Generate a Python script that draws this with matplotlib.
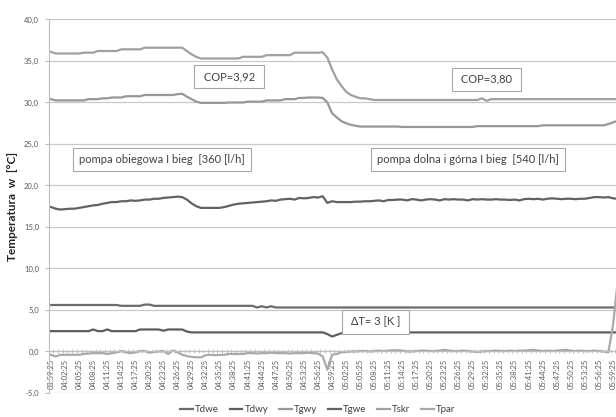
import matplotlib
matplotlib.use("Agg")
import matplotlib.pyplot as plt
import pandas as pd
from matplotlib.ticker import FuncFormatter, MultipleLocator

plt.rcParams['font.family'] = ['Lato', 'DejaVu Sans']

# pomiary co minute od 03:59:25
czas = pd.date_range("2000-01-01 03:59:25", periods=122, freq="min").strftime("%H:%M:%S")

t_dwe = [5.6]*15 + [5.5]*5 + [5.65]*2 + [5.5]*22 + [5.3, 5.45, 5.3, 5.45, 5.3] + [5.3]*73

t_dwy = ([2.45]*9 + [2.65] + [2.45]*2 + [2.65] + [2.45]*6 + [2.65]*5 + [2.5] + [2.65]*4
         + [2.4] + [2.3]*29 + [2.1, 1.8, 2.0, 2.2] + [2.3]*59)

t_gwy = ([30.4] + [30.25]*7 + [30.4]*3 + [30.5]*2 + [30.6]*3 + [30.75]*4 + [30.9]*7
         + [31.0, 31.05, 30.7, 30.4, 30.1] + [29.95]*6 + [30.0]*4 + [30.1]*4 + [30.25]*4
         + [30.4]*3 + [30.55, 30.55, 30.6, 30.6, 30.6, 30.55]
         + [30.0, 28.7, 28.2, 27.75, 27.5, 27.3, 27.2] + [27.1]*9 + [27.05]*16
         + [27.15]*14 + [27.25]*14 + [27.4, 27.6, 27.8])

t_gwe = [17.4, 17.2, 17.1, 17.15, 17.2, 17.2, 17.3, 17.4, 17.5, 17.6,
         17.65, 17.8, 17.9, 18.0, 18.0, 18.1, 18.1, 18.2, 18.15, 18.2,
         18.3, 18.3, 18.4, 18.4, 18.5, 18.55, 18.6, 18.65, 18.6, 18.3,
         17.85, 17.5, 17.3, 17.3, 17.3, 17.3, 17.3, 17.4, 17.55, 17.7,
         17.8, 17.85, 17.9, 17.95, 18.0, 18.05, 18.1, 18.2, 18.15, 18.3,
         18.35, 18.4, 18.3, 18.5, 18.45, 18.5, 18.6, 18.55, 18.7, 17.9,
         18.1, 18.0, 18.0, 18.0, 18.0, 18.05, 18.05, 18.1, 18.1, 18.15,
         18.2, 18.1, 18.25, 18.25, 18.3, 18.3, 18.2, 18.35, 18.3, 18.2,
         18.3, 18.35, 18.3, 18.2, 18.35, 18.3, 18.35, 18.3, 18.3, 18.2,
         18.35, 18.3, 18.35, 18.3, 18.3, 18.35, 18.3, 18.3, 18.25, 18.3,
         18.2, 18.35, 18.4, 18.35, 18.4, 18.3, 18.4, 18.45, 18.4, 18.35,
         18.4, 18.4, 18.35, 18.4, 18.4, 18.5, 18.6, 18.6, 18.55, 18.6,
         18.45, 18.4]

t_skr = ([36.1] + [35.9]*6 + [36.0]*3 + [36.2]*5 + [36.4]*5 + [36.6]*9
         + [36.2, 35.8, 35.5] + [35.3]*9 + [35.5]*5 + [35.7]*6 + [36.0]*6 + [36.05]
         + [35.4, 34.0, 32.8, 32.0, 31.3, 30.9, 30.7, 30.5, 30.5, 30.4]
         + [30.3]*23 + [30.5, 30.2, 30.4] + [30.4]*27)

t_par = [-0.4, -0.6, -0.4, -0.4, -0.4, -0.4, -0.4, -0.3, -0.25, -0.2,
         -0.2, -0.2, -0.3, -0.2, -0.1, 0.05, -0.1, -0.2, -0.1, 0.05,
         0.05, -0.15, -0.05, 0.0, 0.05, -0.3, 0.1, -0.1, -0.4, -0.55,
         -0.65, -0.7, -0.7, -0.45, -0.4, -0.45, -0.4, -0.4, -0.3, -0.3,
         -0.3, -0.3, -0.2, -0.2, -0.25, -0.2, -0.2, -0.15, -0.2, -0.2,
         -0.2, -0.25, -0.2, -0.2, -0.2, -0.15, -0.2, -0.25, -0.6, -2.2,
         -0.4, -0.3, -0.1, -0.05, 0.0, 0.0, 0.05, 0.05, 0.0, 0.05,
         0.1, 0.05, 0.1, 0.15, 0.15, 0.1, 0.0, 0.0, 0.05, 0.1,
         0.1, 0.05, 0.05, 0.1, 0.2, 0.1, 0.05, 0.05, 0.1, 0.05,
         0.0, -0.05, 0.0, 0.05, 0.05, 0.1, 0.05, 0.05, 0.1, 0.05,
         0.1, 0.1, 0.15, 0.2, 0.1, 0.05, 0.1, 0.05, 0.1, 0.15,
         0.2, 0.1, 0.05, 0.1, 0.05, 0.05, 0.1, 0.05, 0.0, -0.1,
         3.2, 8.5]

serie = [("Tdwe", t_dwe, "#6b6b6b"),
         ("Tdwy", t_dwy, "#5e5e5e"),
         ("Tgwy", t_gwy, "#979797"),
         ("Tgwe", t_gwe, "#626262"),
         ("Tskr", t_skr, "#a0a0a0"),
         ("Tpar", t_par, "#a9a9a9")]

fig = plt.figure(figsize=(6.16, 4.17), dpi=100)
ax = fig.add_axes([0.0791, 0.0576, 0.9209, 0.8957])

x = range(len(czas))
for nazwa, y, kolor in serie:
    ax.plot(x, y, color=kolor, lw=1.6, label=nazwa, solid_joinstyle="round")

ax.set_ylim(-5, 40)
ax.set_xlim(-0.5, 120.63)
ax.yaxis.set_major_locator(MultipleLocator(5))
ax.yaxis.set_major_formatter(FuncFormatter(lambda v, p: f"{v:.1f}".replace(".", ",")))
ax.grid(axis="y", color="#c9c9c9", lw=0.9)
ax.set_axisbelow(True)

for s in ["top", "right"]:
    ax.spines[s].set_visible(False)
ax.spines["left"].set_color("#bdbdbd")
ax.spines["bottom"].set_position(("data", 0))
ax.spines["bottom"].set_color("#bdbdbd")

# etykiety co 3 minuty, kreski na granicach kategorii
ax.set_xticks(list(x)[::3])
ax.set_xticklabels(czas[::3], rotation=90, fontsize=5.5, color="#595959")
ax.set_xticks([i - 0.5 for i in x], minor=True)
ax.tick_params(axis="x", which="major", length=0, pad=5)
ax.tick_params(axis="x", which="minor", direction="inout", length=3, color="#bdbdbd", width=0.6)
ax.tick_params(axis="y", length=3, color="#bdbdbd", labelsize=5.5, labelcolor="#595959", pad=4)

ramka = dict(boxstyle="square,pad=0.55", fc="white", ec="#a6a6a6", lw=0.8)
opis = dict(ha="center", va="center", fontsize=8, color="#404040", bbox=ramka)
ax.text(38.0, 33.1, " COP=3,92 ", **opis)
ax.text(92.9, 32.8, " COP=3,80 ", **opis)
ax.text(23.7, 23.1, "pompa obiegowa I bieg  [360 [l/h]", **opis)
ax.text(89.0, 23.1, "pompa dolna i górna I bieg  [540 [l/h]", **opis)
ax.text(69.3, 3.55, " ΔT= 3 [K ] ", **opis)

fig.text(0.02, 0.505, "Temperatura  w  [°C]", rotation=90, ha="center", va="center",
         fontsize=8.5, fontweight="bold", color="#262626")

fig.legend(loc="center", bbox_to_anchor=(0.516, 0.018), ncol=6, frameon=False,
           fontsize=7, handlelength=1.3, handletextpad=0.25, columnspacing=1.1,
           labelcolor="#404040")

fig.savefig("out.png", dpi=100)
